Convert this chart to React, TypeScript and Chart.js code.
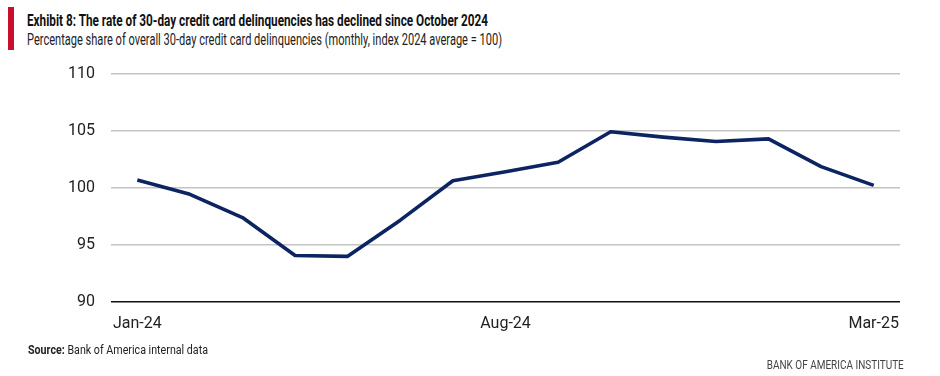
import React, { useEffect, useLayoutEffect, useRef } from "react";
import { Chart, registerables } from "chart.js";

Chart.register(...registerables);

const categories = [
  "Jan-24", "Feb-24", "Mar-24", "Apr-24", "May-24", "Jun-24", "Jul-24",
  "Aug-24", "Sep-24", "Oct-24", "Nov-24", "Dec-24", "Jan-25", "Feb-25", "Mar-25",
];
const delinquencyIndex = [
  100.68, 99.42, 97.38, 94.05, 93.97, 97.15, 100.62,
  101.41, 102.24, 104.92, 104.45, 104.06, 104.3, 101.86, 100.21,
];
const shownXLabels = ["Jan-24", "Aug-24", "Mar-25"];
const yTicks = [90, 95, 100, 105, 110];

const FONT = "Roboto, 'Noto Sans', sans-serif";

function FitText(props: {
  left?: number;
  right?: number;
  top: number;
  width: number;
  size: number;
  weight?: string;
  color: string;
  children: React.ReactNode;
}) {
  const ref = useRef<HTMLSpanElement | null>(null);
  useLayoutEffect(() => {
    const el = ref.current;
    if (!el) return;
    el.style.transform = "none";
    const w = el.getBoundingClientRect().width;
    if (w > 0) el.style.transform = `scaleX(${props.width / w})`;
  }, [props.width]);
  const pos: any = { position: "absolute", top: props.top };
  if (props.right !== undefined) pos.right = props.right;
  else pos.left = props.left;
  return (
    <span
      ref={ref}
      style={{
        ...pos,
        display: "inline-block",
        whiteSpace: "nowrap",
        fontFamily: FONT,
        fontSize: props.size,
        fontWeight: props.weight || "normal",
        color: props.color,
        lineHeight: "20px",
        transformOrigin: props.right !== undefined ? "right top" : "left top",
      }}
    >
      {props.children}
    </span>
  );
}

export default function App() {
  const ref = useRef<HTMLCanvasElement | null>(null);

  useEffect(() => {
    const canvas = ref.current;
    if (!canvas) return;
    const chart = new Chart(canvas, {
      type: "line",
      data: {
        labels: categories,
        datasets: [
          {
            data: delinquencyIndex,
            borderColor: "#0c2461",
            borderWidth: 3.6,
            pointRadius: 0,
            tension: 0,
            fill: false,
            borderJoinStyle: "round",
          },
        ],
      },
      options: {
        animation: false,
        responsive: false,
        maintainAspectRatio: false,
        layout: { padding: { top: 74, right: 40, left: 0, bottom: 0 } },
        plugins: { legend: { display: false }, tooltip: { enabled: false }, title: { display: false } },
        scales: {
          x: {
            type: "category",
            offset: true,
            grid: { display: false, drawTicks: false },
            border: { display: false },
            ticks: {
              autoSkip: false,
              maxRotation: 0,
              padding: 13,
              color: "#222",
              font: { family: FONT, size: 16 },
              callback: (_v: any, i: number) =>
                shownXLabels.includes(categories[i]) ? categories[i] : "",
            },
            afterFit: (s: any) => {
              s.height = 74.5;
            },
          },
          y: {
            min: yTicks[0],
            max: yTicks[yTicks.length - 1],
            afterBuildTicks: (s: any) => {
              s.ticks = yTicks.map((v) => ({ value: v }));
            },
            grid: {
              drawTicks: false,
              lineWidth: 1.5,
              color: (c: any) => (c.tick && c.tick.value === 90 ? "#111" : "#c4c4c4"),
            },
            border: { display: false },
            ticks: {
              padding: 16,
              color: "#222",
              font: { family: FONT, size: 16 },
            },
            afterFit: (s: any) => {
              s.width = 111;
            },
          },
        },
      },
    });
    return () => chart.destroy();
  }, []);

  return (
    <div style={{ position: "absolute", left: 0, top: 0, width: 940, height: 376, background: "#fff", overflow: "hidden", fontFamily: FONT }}>
      <div style={{ position: "absolute", left: 8, top: 7, width: 6, height: 43, background: "#c8102e" }} />
      <FitText left={27} top={10.2} width={461} size={17} weight="bold" color="#111">
        Exhibit 8: The rate of 30-day credit card delinquencies has declined since October 2024
      </FitText>
      <FitText left={27} top={30.2} width={475} size={16} color="#222">
        Percentage share of overall 30-day credit card delinquencies (monthly, index 2024 average = 100)
      </FitText>
      <canvas ref={ref} width={940} height={376} style={{ position: "absolute", left: 0, top: 0 }} />
      <FitText left={28} top={339.7} width={180} size={12.5} color="#222">
        <b>Source:</b> Bank of America internal data
      </FitText>
      <FitText right={36} top={355.2} width={137} size={12} color="#444">
        BANK OF AMERICA INSTITUTE
      </FitText>
    </div>
  );
}
